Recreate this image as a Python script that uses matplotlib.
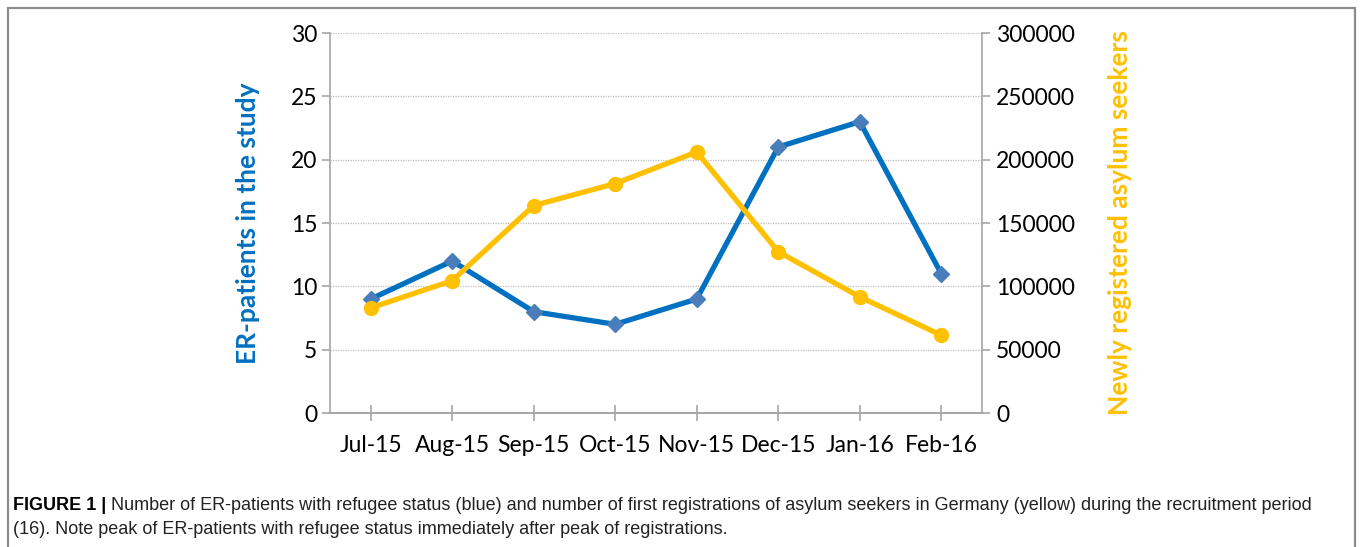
import matplotlib.pyplot as plt
from matplotlib.patches import Rectangle

months = ['Jul-15', 'Aug-15', 'Sep-15', 'Oct-15', 'Nov-15', 'Dec-15', 'Jan-16', 'Feb-16']
er_patients = [9, 12, 8, 7, 9, 21, 23, 11]
registrations = [83000, 104460, 163772, 181166, 206101, 127320, 91671, 61428]

blue = '#0070C0'
blue_mk = '#4A7EBB'
yellow = '#FFC000'
axcol = '#A6A6A6'
tickfont = 'Lato'

fig = plt.figure(figsize=(13.6, 5.47), dpi=100)
ax = fig.add_axes([330/1360, 1-413/547, (982-330)/1360, (413-33)/547])
ax2 = ax.twinx()

x = list(range(len(months)))
ax.plot(x, er_patients, color=blue, lw=3.8, marker='D', markersize=8,
        markerfacecolor=blue_mk, markeredgecolor=blue_mk, zorder=3)
ax2.plot(x, registrations, color=yellow, lw=3.8, marker='o', markersize=10,
         markerfacecolor=yellow, markeredgecolor=yellow, zorder=3)

ax.set_xlim(-0.5, len(months)-0.5)
ax.set_ylim(0, 30)
ax2.set_ylim(0, 300000)
ax.set_yticks(range(0, 31, 5))
ax2.set_yticks(range(0, 300001, 50000))
ax.set_xticks(x)
ax.set_xticklabels(months)

ax.yaxis.grid(True, linestyle=(0, (1, 1)), color='#BFBFBF', lw=0.9)
ax.set_axisbelow(True)

for a in (ax, ax2):
    for s in a.spines.values():
        s.set_color(axcol)
        s.set_linewidth(1.2)
    a.spines['top'].set_visible(False)
ax.spines['right'].set_visible(False)
ax2.spines['left'].set_visible(False)

ax.tick_params(axis='y', direction='out', length=6, color=axcol, width=1.2,
               labelsize=16.5, pad=3)
ax2.tick_params(axis='y', direction='out', length=6, color=axcol, width=1.2,
                labelsize=16.5, pad=4)
ax.tick_params(axis='x', direction='inout', length=12, color=axcol, width=1.2,
               labelsize=16.5, pad=10)
for lab in ax.get_xticklabels() + ax.get_yticklabels() + ax2.get_yticklabels():
    lab.set_family(tickfont)

ax.set_ylabel('ER-patients in the study', color=blue, fontsize=19,
              fontweight='bold', family=tickfont, labelpad=22)
ax2.set_ylabel('Newly registered asylum seekers', color=yellow, fontsize=19,
               fontweight='bold', family=tickfont, labelpad=24)

# frame round the figure
fig.patches.append(Rectangle((8/1360, -0.01), (1355-8)/1360, 1-8/547+0.01,
                             transform=fig.transFigure, fill=False,
                             edgecolor='#8C8C8C', lw=1.6))

# caption
capfam = 'Liberation Sans'
cap1 = ('Number of ER-patients with refugee status (blue) and number of first registrations '
        'of asylum seekers in Germany (yellow) during the recruitment period')
cap2 = '(16). Note peak of ER-patients with refugee status immediately after peak of registrations.'
y1 = 1-510/547
r = fig.canvas.get_renderer()
fs = 12
t = fig.text(13/1360, y1, 'FIGURE 1 |', fontsize=fs, fontweight='bold',
             family=capfam, va='baseline')
t1 = fig.text(0.5, y1, cap1, fontsize=fs, family=capfam, va='baseline', color='#222222')
w = t.get_window_extent(renderer=r).width + 5 + t1.get_window_extent(renderer=r).width
fs = fs*1305/w
t.set_fontsize(fs)
t1.set_fontsize(fs)
bb = t.get_window_extent(renderer=r)
t1.set_x((bb.x1+5)/1360)
fig.text(13/1360, 1-534/547, cap2, fontsize=fs, family=capfam, va='baseline', color='#222222')

fig.savefig('out.png', dpi=100)
